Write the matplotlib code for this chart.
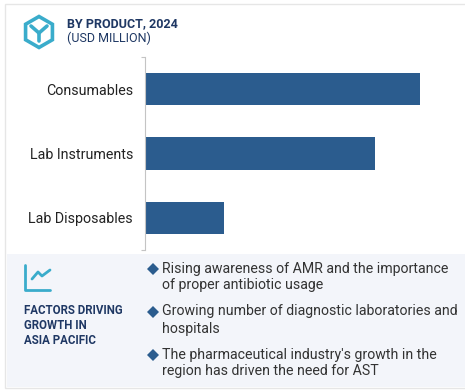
import matplotlib
matplotlib.use('Agg')
import matplotlib.pyplot as plt
from matplotlib.patches import Rectangle, RegularPolygon

plt.rcParams['font.family'] = ['Roboto', 'DejaVu Sans']

categories = ['Consumables', 'Lab Instruments', 'Lab Disposables']
values = [275, 230, 79]  # no scale is printed
bullets = [
    ['Rising awareness of AMR and the importance', 'of proper antibiotic usage'],
    ['Growing number of diagnostic laboratories and', 'hospitals'],
    ["The pharmaceutical industry's growth in the", 'region has driven the need for AST'],
]
factors = ['FACTORS DRIVING', 'GROWTH IN', 'ASIA PACIFIC']

W, H = 465, 391
NAVY = '#1f3864'
TEAL = '#3aaccb'
BLUE = '#2b5c8e'

fig = plt.figure(figsize=(W / 100, H / 100), dpi=100)

# layer in pixel coordinates for the panel, icons and text
bg = fig.add_axes([0, 0, 1, 1])
bg.set_xlim(0, W)
bg.set_ylim(H, 0)
bg.axis('off')
bg.add_patch(Rectangle((4.5, 3.5), W, 384, fc='white', ec='#e6e6e6', lw=1))
bg.add_patch(Rectangle((7, 254), W, 133, fc='#f3f5fa', ec='none'))

# hexagon icon
bg.add_patch(RegularPolygon((39, 32), 6, radius=15.5, fc='none', ec=TEAL, lw=2.6))
bg.plot([31, 39, 47], [26, 33, 26], color=TEAL, lw=2.6, solid_capstyle='round')
bg.plot([39, 39], [33, 41], color=TEAL, lw=2.6, solid_capstyle='round')

bg.text(67, 24, 'BY PRODUCT, 2024', fontsize=9.0, fontweight='bold', color=NAVY, va='center')
bg.text(67, 38, '(USD MILLION)', fontsize=9.0, color=NAVY, va='center')

# line chart icon
bg.plot([24.5, 24.5, 50], [265, 289.5, 289.5], color=TEAL, lw=2, solid_capstyle='round')
bg.plot([32, 38, 42, 50], [279, 272, 276, 270], color=TEAL, lw=2, solid_capstyle='round')

for i, line in enumerate(factors):
    bg.text(24, 310 + i * 15.5, line, fontsize=8.3, fontweight='bold', color=NAVY, va='center')

for i, lines in enumerate(bullets):
    y0 = 268.5 + i * 43
    bg.plot([153], [y0], marker='D', ms=6.5, color=BLUE, mew=0)
    for j, line in enumerate(lines):
        bg.text(162, y0 + j * 17, line, fontsize=10.15, color='#333333', va='center')

# bar chart
ax = fig.add_axes([145 / W, 1 - 250 / H, 310 / W, 193 / H])
ax.patch.set_alpha(0)
ax.barh(categories, values, height=0.5, color=BLUE)
ax.set_xlim(0, 310)
ax.set_ylim(2.5, -0.5)
ax.set_xticks([])
ax.tick_params(axis='y', length=0, pad=8.7, labelsize=10.3, labelcolor='#222222')
ax.set_yticks([-0.5, 2.5], minor=True)
ax.tick_params(axis='y', which='minor', length=3, width=0.8, color='#c4c4c4')
for s in ['top', 'right', 'bottom']:
    ax.spines[s].set_visible(False)
ax.spines['left'].set_color('#c4c4c4')

fig.savefig('out.png', dpi=100)
